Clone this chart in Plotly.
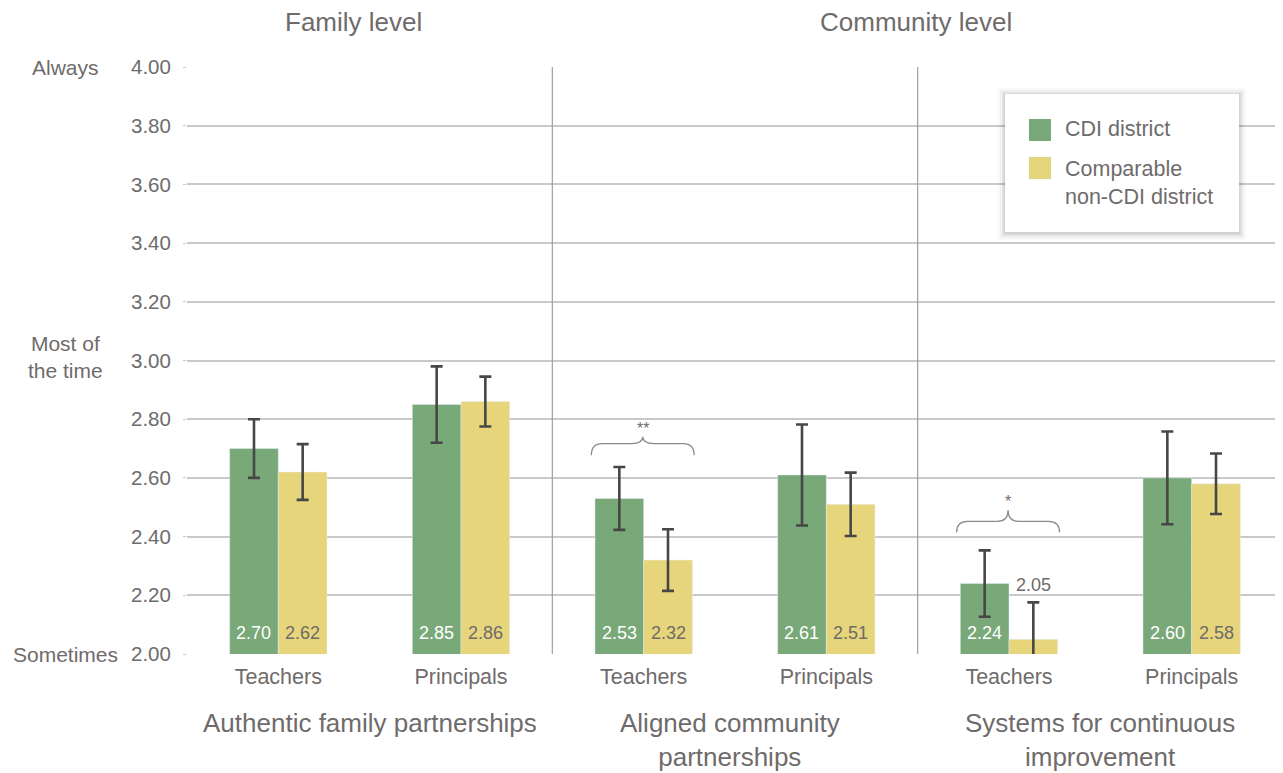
import plotly.graph_objects as go

# ---------------- data ----------------
sub_labels = ["Teachers", "Principals", "Teachers", "Principals", "Teachers", "Principals"]
group_labels = ["Authentic family partnerships", "Aligned community<br>partnerships",
                "Systems for continuous<br>improvement"]
level_labels = ["Family level", "Community level"]
series_names = ["CDI district", "Comparable<br>non-CDI district"]

cdi_values = [2.70, 2.85, 2.53, 2.61, 2.24, 2.60]
cdi_errors = [0.10, 0.13, 0.107, 0.172, 0.113, 0.158]
non_values = [2.62, 2.86, 2.32, 2.51, 2.05, 2.58]
non_errors = [0.095, 0.085, 0.105, 0.108, 0.126, 0.103]

y_ticks = [2.0, 2.2, 2.4, 2.6, 2.8, 3.0, 3.2, 3.4, 3.6, 3.8, 4.0]
scale_labels = {4.0: "Always", 3.0: "Most of<br>the time", 2.0: "Sometimes"}
significance = [(2, "**"), (4, "*")]  # category index, marker

# ---------------- style ----------------
GREEN = "#79a879"
YELLOW = "#e6d57b"
TEXT = "#6f6b6b"
GRID = "#c9c9c9"
FONT = "Liberation Sans, Arial, sans-serif"
BARGAP = 0.467
HALF = (1 - BARGAP) / 4  # offset of each bar center from category center
PW, PH = 1096, 587       # plot area size in px

x = list(range(len(sub_labels)))

fig = go.Figure()
fig.add_trace(go.Bar(
    x=x, y=cdi_values, name=series_names[0], marker_color=GREEN,
    error_y=dict(type="data", array=cdi_errors, color="#474747", thickness=2.6, width=6),
    showlegend=False))
fig.add_trace(go.Bar(
    x=x, y=non_values, name=series_names[1], marker_color=YELLOW,
    error_y=dict(type="data", array=non_errors, color="#474747", thickness=2.6, width=6),
    showlegend=False))

ann = []
shapes = []

# value labels
for i, (v, e) in enumerate(zip(cdi_values, cdi_errors)):
    ann.append(dict(x=i - HALF, y=2.0, xref="x", yref="y", text=f"{v:.2f}", showarrow=False,
                    yanchor="bottom", yshift=9, font=dict(size=18, color="white", family=FONT)))
for i, (v, e) in enumerate(zip(non_values, non_errors)):
    if v - 2.0 < 0.1:
        ann.append(dict(x=i + HALF, y=v + e, xref="x", yref="y", text=f"{v:.2f}", showarrow=False,
                        yanchor="bottom", yshift=5, font=dict(size=18, color=TEXT, family=FONT)))
    else:
        ann.append(dict(x=i + HALF, y=2.0, xref="x", yref="y", text=f"{v:.2f}", showarrow=False,
                        yanchor="bottom", yshift=9, font=dict(size=18, color=TEXT, family=FONT)))

# group labels
group_x = [0.5, 2.47, 4.5]
for gi, g in enumerate(group_labels):
    ann.append(dict(x=group_x[gi], y=-0.088, xref="x", yref="paper", text=g, showarrow=False,
                    yanchor="top", font=dict(size=26, color=TEXT, family=FONT)))

# level titles
ann.append(dict(x=0.41, y=1.077, xref="x", yref="paper", text=level_labels[0], showarrow=False,
                yanchor="middle", font=dict(size=26, color=TEXT, family=FONT)))
ann.append(dict(x=3.49, y=1.077, xref="x", yref="paper", text=level_labels[1], showarrow=False,
                yanchor="middle", font=dict(size=26, color=TEXT, family=FONT)))

# scale labels
for yv, t in scale_labels.items():
    ann.append(dict(x=-0.111, y=yv, xref="paper", yref="y", text=t, showarrow=False,
                    xanchor="center", yanchor="middle", align="center",
                    yshift=4 if "<br>" in t else 0,
                    font=dict(size=21, color=TEXT, family=FONT)))

# separators
for xs in [1.5, 3.5]:
    shapes.append(dict(type="line", x0=xs, x1=xs, y0=2.0, y1=4.0, xref="x", yref="y",
                       line=dict(color="#a0a0a0", width=1.2), layer="above"))

# braces
brace_y = {2: (2.677, 2.717, 2.74), 4: (2.415, 2.452, 2.49)}
for ci, mark in significance:
    y_end, y_flat, y_peak = brace_y[ci]
    x0 = ci - 2 * HALF - 0.02
    x1 = ci + 2 * HALF + 0.01
    xm = (x0 + x1) / 2
    r = 0.06
    path = (f"M{x0},{y_end} Q{x0},{y_flat} {x0 + r},{y_flat} L{xm - r},{y_flat} "
            f"Q{xm},{y_flat} {xm},{y_peak} Q{xm},{y_flat} {xm + r},{y_flat} "
            f"L{x1 - r},{y_flat} Q{x1},{y_flat} {x1},{y_end}")
    shapes.append(dict(type="path", path=path, xref="x", yref="y",
                       line=dict(color="#8a8a8a", width=1.3), layer="above"))
    ann.append(dict(x=xm, y=y_peak, xref="x", yref="y", text=mark, showarrow=False,
                    yanchor="bottom", yshift=-2, font=dict(size=16, color=TEXT, family=FONT)))

# legend box (manual, with soft shadow)
lx0, lx1, ly0, ly1 = 0.7464, 0.9599, 0.7189, 0.954
for k, op in [(7, 0.025), (5, 0.035), (3, 0.05), (1.5, 0.07)]:
    dx = k / PW
    dy = k / PH
    shapes.append(dict(type="rect", xref="paper", yref="paper", x0=lx0 - dx, x1=lx1 + dx,
                       y0=ly0 - dy - 1 / PH, y1=ly1 + dy - 1 / PH,
                       fillcolor="black", opacity=op, line=dict(width=0), layer="above"))
shapes.append(dict(type="rect", xref="paper", yref="paper", x0=lx0, x1=lx1, y0=ly0, y1=ly1,
                   fillcolor="white", line=dict(width=0), layer="above"))
sq = [(0.9114, 0.8739, GREEN), (0.8467, 0.8092, YELLOW)]
for (ya, yb, c) in sq:
    shapes.append(dict(type="rect", xref="paper", yref="paper", x0=0.7682, x1=0.7883, y0=yb, y1=ya,
                       fillcolor=c, line=dict(width=0), layer="above"))
ann.append(dict(x=0.7992, y=(654 - 129) / PH, xref="paper", yref="paper", text=series_names[0],
                showarrow=False, xanchor="left", yanchor="middle", align="left",
                font=dict(size=21.5, color=TEXT, family=FONT)))
ann.append(dict(x=0.7992, y=(654 - 182.5) / PH, xref="paper", yref="paper", text=series_names[1],
                showarrow=False, xanchor="left", yanchor="middle", align="left",
                font=dict(size=21.5, color=TEXT, family=FONT)))

# the page adds an 8px body margin, so the figure is drawn 8px smaller and offset
fig.update_layout(
    width=1275, height=765,
    margin=dict(l=179, r=0, t=59, b=119),
    paper_bgcolor="white", plot_bgcolor="white",
    barmode="group", bargap=BARGAP, bargroupgap=0,
    font=dict(family=FONT, color=TEXT),
    annotations=ann, shapes=shapes, showlegend=False,
)
fig.update_xaxes(
    range=[-0.5, 5.5], tickvals=x, ticktext=sub_labels, showgrid=False, zeroline=False,
    showline=False, ticks="", tickfont=dict(size=21.5, color=TEXT, family=FONT),
    ticklabelstandoff=7,
)
fig.update_yaxes(
    range=[2.0, 4.0], tickvals=y_ticks, tickformat=".2f", showgrid=True, gridcolor=GRID,
    gridwidth=1.5, zeroline=False, showline=False, ticks="outside", ticklen=3, tickcolor=GRID,
    tickfont=dict(size=20.5, color=TEXT, family=FONT), ticklabelstandoff=8,
)

fig.write_html("out.html")
